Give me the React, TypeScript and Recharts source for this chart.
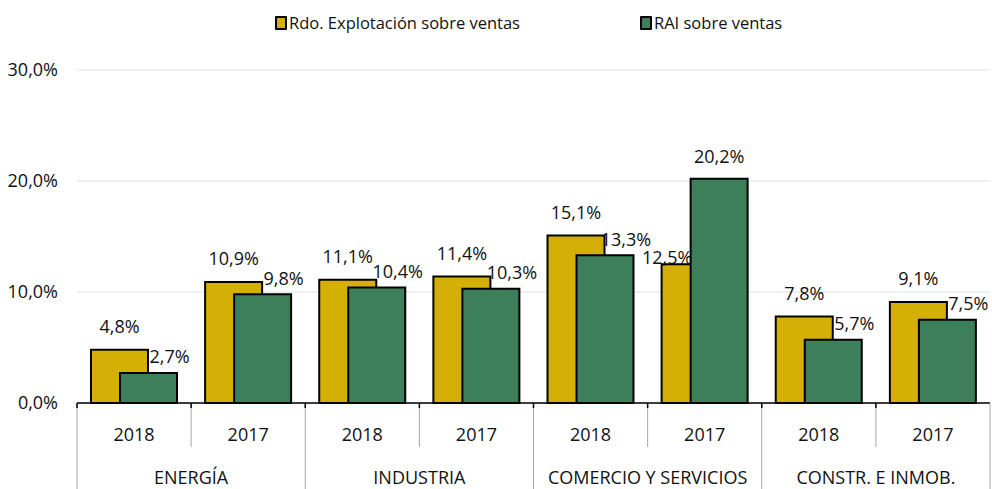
import { BarChart, Bar, XAxis, YAxis, CartesianGrid, LabelList } from "recharts";

const years = ["2018", "2017", "2018", "2017", "2018", "2017", "2018", "2017"];
const sectors = ["ENERGÍA", "INDUSTRIA", "COMERCIO Y SERVICIOS", "CONSTR. E INMOB."];
const rdoExplotacion = [4.8, 10.9, 11.1, 11.4, 15.1, 12.5, 7.8, 9.1];
const raiVentas = [2.7, 9.8, 10.4, 10.3, 13.3, 20.2, 5.7, 7.5];
const yTicks = [0, 10, 20, 30];

const data = years.map((y, i) => ({ year: y, rdo: rdoExplotacion[i], rai: raiVentas[i] }));

const W = 992;
const H = 489;
const LEFT = 77;
const RIGHT = 2;
const TOP = 70;
const XH = 86;
const AXIS_Y = H - XH;
const BAND = (W - LEFT - RIGHT) / years.length;
const FONT = "'Open Sans', sans-serif";
const FS = 18;
const YELLOW = "#D4B007";
const GREEN = "#3D7F5A";
const BAR_SIZE = 57;
const BAR_GAP = -28;

const fmt = (v: number) => v.toFixed(1).replace(".", ",") + "%";

function YTick(props: any) {
    const { y, payload } = props;
    return (
        <text x={58} y={y} dy="0.35em" textAnchor="end" fontSize={FS} fontFamily={FONT} fill="#111">
            {fmt(payload.value)}
        </text>
    );
}

function XTick(props: any) {
    const { x, index, payload } = props;
    const left = x - BAND / 2;
    const isSectorStart = index % 2 === 0;
    return (
        <g>
            <line x1={left} x2={left} y1={AXIS_Y} y2={isSectorStart ? H : AXIS_Y + 44} stroke="#a6a6a6" strokeWidth={1} />
            <line x1={left} x2={left} y1={AXIS_Y} y2={AXIS_Y + 5} stroke="#000" strokeWidth={1.5} />
            {index === years.length - 1 && (
                <line x1={x + BAND / 2} x2={x + BAND / 2} y1={AXIS_Y} y2={H} stroke="#a6a6a6" strokeWidth={1} />
            )}
            <text x={x} y={AXIS_Y + 32} dy="0.35em" textAnchor="middle" fontSize={FS} fontFamily={FONT} fill="#111">
                {payload.value}
            </text>
            {!isSectorStart && (
                <text x={left} y={AXIS_Y + 75} dy="0.35em" textAnchor="middle" fontSize={FS} fontFamily={FONT} fill="#111">
                    {sectors[(index - 1) / 2]}
                </text>
            )}
        </g>
    );
}

// the yellow labels are drawn with the green series so they sit on top of the green bars
function RdoLabel(props: any) {
    const { x, width, index } = props;
    const v = rdoExplotacion[index];
    const top = AXIS_Y - (v / 30) * (AXIS_Y - TOP);
    const cx = x - (BAR_SIZE + BAR_GAP) + width / 2;
    const tweak = index === 5 ? { dx: -23, dy: -7 } : { dx: 0, dy: -23 };
    return (
        <text x={cx + tweak.dx} y={top + tweak.dy} dy="0.35em" textAnchor="middle" fontSize={FS} fontFamily={FONT} fill="#111">
            {fmt(v)}
        </text>
    );
}

function RaiLabel(props: any) {
    const { x, y, width, value, index } = props;
    const tweak = index === 5 ? { dx: 0, dy: -22 } : { dx: 21, dy: -16 };
    return (
        <text x={x + width / 2 + tweak.dx} y={y + tweak.dy} dy="0.35em" textAnchor="middle" fontSize={FS} fontFamily={FONT} fill="#111">
            {fmt(value)}
        </text>
    );
}

function LegendItem({ color, label, left }: { color: string; label: string; left: number }) {
    return (
        <div style={{ position: "absolute", left, top: 11, display: "flex", alignItems: "center", fontFamily: FONT, fontSize: 16.5, color: "#111" }}>
            <span style={{ width: 8, height: 10, background: color, border: "2px solid #000", borderRadius: 1, marginRight: 2 }} />
            <span>{label}</span>
        </div>
    );
}

export default function App() {
    return (
        <div style={{ position: "absolute", left: 0, top: 0, width: W, height: H, background: "#fff" }}>
            <LegendItem color={YELLOW} label="Rdo. Explotación sobre ventas" left={275} />
            <LegendItem color={GREEN} label="RAI sobre ventas" left={640} />
            <BarChart width={W} height={H} data={data} margin={{ top: TOP, right: RIGHT, left: 0, bottom: 0 }} barGap={BAR_GAP} barSize={BAR_SIZE}>
                <CartesianGrid stroke="#e0e0e0" vertical={false} />
                <XAxis dataKey="year" height={XH} axisLine={{ stroke: "#000", strokeWidth: 1.5 }} tickLine={false} tick={<XTick />} interval={0} />
                <YAxis width={LEFT} domain={[0, 30]} ticks={yTicks} axisLine={false} tickLine={false} tick={<YTick />} />
                <Bar dataKey="rdo" fill={YELLOW} stroke="#000" strokeWidth={2} isAnimationActive={false} />
                <Bar dataKey="rai" fill={GREEN} stroke="#000" strokeWidth={2} isAnimationActive={false}>
                    <LabelList dataKey="rai" content={<RdoLabel />} />
                    <LabelList dataKey="rai" content={<RaiLabel />} />
                </Bar>
            </BarChart>
        </div>
    );
}
